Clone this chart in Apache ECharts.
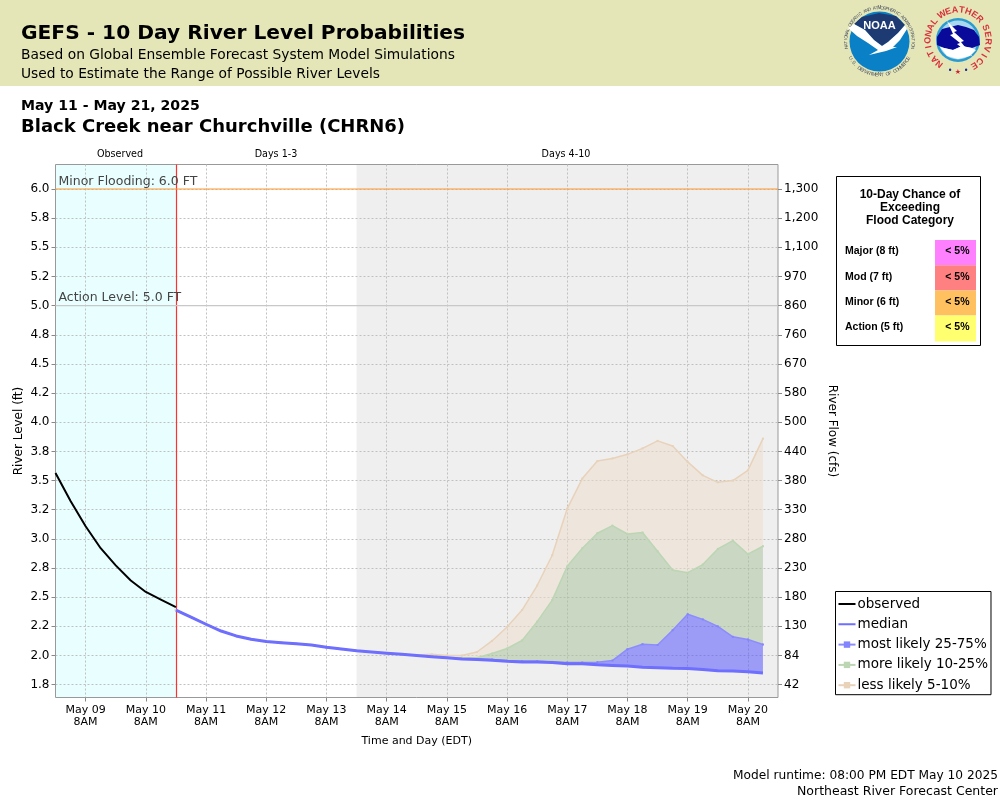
<!DOCTYPE html>
<html>
<head>
<meta charset="utf-8">
<title>GEFS - 10 Day River Level Probabilities</title>
<script src="https://cdn.jsdelivr.net/npm/echarts@6/dist/echarts.min.js"></script>
<style>
  html, body { margin: 0; padding: 0; background: #fff; }
  #chart { width: 1000px; height: 800px; }
</style>
</head>
<body>
<div id="chart"></div>
<script>
// one x slot every 6 hours, May 08 8PM to May 20 8PM
const dayNames = ['May 08', 'May 09', 'May 10', 'May 11', 'May 12', 'May 13', 'May 14', 'May 15', 'May 16', 'May 17', 'May 18', 'May 19', 'May 20'];
const hourNames = ['2AM', '8AM', '2PM', '8PM'];
const timeSlots = [];
dayNames.forEach(d => hourNames.forEach(h => timeSlots.push(d + '\n' + h)));
const timeCategories = timeSlots.slice(3, 52);

const forecastStart = 'May 10\n8PM';
const day4Start = 'May 13\n8PM';

// river level in ft, one value every 6 hours
const observedLevels = [3.565, 3.325, 3.108, 2.92, 2.773, 2.643, 2.545, 2.48, 2.414];
const medianLevels = [2.39, 2.33, 2.268, 2.21, 2.168, 2.14, 2.12, 2.11, 2.10, 2.09,
  2.07, 2.055, 2.04, 2.03, 2.02, 2.01, 2.00, 1.99, 1.98, 1.97,
  1.965, 1.96, 1.95, 1.945, 1.945, 1.94, 1.93, 1.93, 1.92, 1.915,
  1.91, 1.90, 1.895, 1.89, 1.888, 1.88, 1.87, 1.868, 1.86, 1.85];
const upper75Levels = [2.39, 2.33, 2.268, 2.21, 2.168, 2.14, 2.12, 2.11, 2.10, 2.09,
  2.07, 2.055, 2.04, 2.03, 2.02, 2.01, 2.00, 1.99, 1.98, 1.975,
  1.97, 1.965, 1.955, 1.95, 1.95, 1.945, 1.94, 1.94, 1.943, 1.957,
  2.054, 2.097, 2.09, 2.217, 2.354, 2.31, 2.25, 2.16, 2.137, 2.094];
const upper90Levels = [2.39, 2.33, 2.268, 2.21, 2.168, 2.14, 2.12, 2.11, 2.10, 2.09,
  2.07, 2.055, 2.04, 2.03, 2.02, 2.01, 2.00, 1.99, 1.98, 1.98,
  1.98, 2.017, 2.06, 2.13, 2.29, 2.475, 2.765, 2.92, 3.048, 3.114,
  3.042, 3.054, 2.894, 2.733, 2.71, 2.78, 2.914, 2.985, 2.87, 2.937];
const upper95Levels = [2.39, 2.33, 2.268, 2.21, 2.168, 2.14, 2.12, 2.11, 2.10, 2.09,
  2.07, 2.055, 2.04, 2.03, 2.02, 2.01, 2.005, 2.01, 2.00, 2.00,
  2.03, 2.125, 2.245, 2.39, 2.60, 2.86, 3.26, 3.517, 3.667, 3.69,
  3.725, 3.776, 3.84, 3.796, 3.66, 3.545, 3.485, 3.50, 3.588, 3.86];

const levelTicks = [1.75, 2, 2.25, 2.5, 2.75, 3, 3.25, 3.5, 3.75, 4, 4.25, 4.5, 4.75, 5, 5.25, 5.5, 5.75, 6];
const levelLabels = ['1.8', '2.0', '2.2', '2.5', '2.8', '3.0', '3.2', '3.5', '3.8', '4.0', '4.2', '4.5', '4.8', '5.0', '5.2', '5.5', '5.8', '6.0'];
const flowLabels = ['42', '84', '130', '180', '230', '280', '330', '380', '440', '500', '580', '670', '760', '860', '970', '1,100', '1,200', '1,300'];

const floodCategories = ['Major (8 ft)', 'Mod (7 ft)', 'Minor (6 ft)', 'Action (5 ft)'];
const floodChances = ['< 5%', '< 5%', '< 5%', '< 5%'];
const floodColors = ['#ff80ff', '#ff8080', '#ffc060', '#ffff70'];

const periodLabels = [
  { text: 'Observed', x: 120 },
  { text: 'Days 1-3', x: 276 },
  { text: 'Days 4-10', x: 566 }
];

// forecast values start 8 slots in (after the observed part)
function padForecast(values) {
  return new Array(8).fill(null).concat(values, [null]);
}
function bandWidth(upper, lower) {
  return padForecast(upper.map((v, i) => Math.max(0, +(v - lower[i]).toFixed(3))));
}
function isDayTick(index, value) {
  return value.endsWith('8AM');
}

function text(str, x, y, font, opts) {
  return {
    type: 'text', x: x, y: y, z: 22, silent: true,
    style: Object.assign({
      text: str, font: font, fill: '#000', align: 'left', verticalAlign: 'middle'
    }, opts || {})
  };
}

// letters set around a circle, angles in degrees clockwise from the top
function arcText(str, cx, cy, r, from, to, font, fill, flip) {
  const out = [];
  for (let i = 0; i < str.length; i++) {
    const deg = from + (to - from) * (str.length > 1 ? i / (str.length - 1) : 0);
    const a = deg * Math.PI / 180;
    out.push({
      type: 'text', z: 21, silent: true,
      x: cx + r * Math.sin(a), y: cy - r * Math.cos(a),
      rotation: flip ? Math.PI - a : -a,
      style: { text: str[i], font: font, fill: fill, align: 'center', verticalAlign: 'middle' }
    });
  }
  return out;
}

function poly(points, fill) {
  return { type: 'polygon', z: 21, silent: true, shape: { points: points }, style: { fill: fill } };
}
function disc(cx, cy, r, fill) {
  return { type: 'circle', z: 21, silent: true, shape: { cx: cx, cy: cy, r: r }, style: { fill: fill } };
}

function noaaLogo() {
  const cx = 879.5, cy = 41.5;
  return [
    disc(cx, cy, 30, '#0a80c6'),
    poly([[854, 24], [862, 17], [879, 13], [896, 16], [905, 25], [898, 33], [888, 42], [882, 46], [874, 40], [865, 30]], '#1d3a72'),
    poly([[848, 28], [854, 24], [865, 30], [874, 40], [882, 46], [888, 42], [898, 33], [905, 25], [907, 29], [900, 40], [893, 47], [897, 47], [886, 51], [869, 55], [878, 50], [868, 43], [857, 36]], '#ffffff'),
    text('NOAA', cx, 26, 'bold 11px "Liberation Sans"', { fill: '#fff', align: 'center' })
  ].concat(
    arcText('NATIONAL OCEANIC AND ATMOSPHERIC ADMINISTRATION', cx, cy, 33.5, -100, 100, '4.6px "Liberation Sans"', '#4a5260'),
    arcText('U.S. DEPARTMENT OF COMMERCE', cx, cy, 33.5, 240, 120, '5px "Liberation Sans"', '#4a5260', true)
  );
}

function nwsLogo() {
  const cx = 958, cy = 40;
  return [
    disc(cx, cy, 22, '#2a9bd0'),
    disc(cx, cy, 19.5, '#a8d8ee'),
    poly([[937, 37], [942, 29], [950, 27], [958, 25], [966, 27], [974, 30], [979, 37], [980, 45], [972, 48], [962, 46], [953, 50], [944, 48], [937, 45]], '#0a0a9a'),
    poly([[940, 47], [953, 50], [962, 46], [972, 48], [976, 50], [970, 56], [958, 59], [947, 56]], '#ffffff'),
    poly([[947, 21], [957, 31], [954, 32], [964, 41], [961, 42], [973, 57], [957, 44], [960, 43], [950, 35], [953, 34]], '#ffffff'),
    text('★', 958, 72, '7px "DejaVu Sans"', { fill: '#d02030', align: 'center' }),
    text('•', 950, 70.5, '8px "DejaVu Sans"', { fill: '#1a2a90', align: 'center' }),
    text('•', 966, 70.5, '8px "DejaVu Sans"', { fill: '#1a2a90', align: 'center' })
  ].concat(
    arcText('NATIONAL', cx, cy, 30, -142, -52, 'bold 9px "Liberation Sans"', '#d8303a'),
    arcText('WEATHER', cx, cy, 30, -32, 46, 'bold 9px "Liberation Sans"', '#d8303a'),
    arcText('SERVICE', cx, cy, 30, 66, 148, 'bold 9px "Liberation Sans"', '#d8303a')
  );
}

function floodBox() {
  const out = [
    { type: 'rect', z: 19, silent: true, shape: { x: 836.5, y: 176.5, width: 144, height: 169 },
      style: { fill: '#fff', stroke: '#000', lineWidth: 1 } },
    text('10-Day Chance of', 910, 195, 'bold 12px "Liberation Sans"', { align: 'center' }),
    text('Exceeding', 910, 208, 'bold 12px "Liberation Sans"', { align: 'center' }),
    text('Flood Category', 910, 221, 'bold 12px "Liberation Sans"', { align: 'center' })
  ];
  floodCategories.forEach((name, i) => {
    const top = 240 + i * 25.2;
    out.push({ type: 'rect', z: 20, silent: true, shape: { x: 935, y: top, width: 41, height: i === 3 ? 26 : 25.2 },
      style: { fill: floodColors[i] } });
    out.push(text(name, 845, top + 11.5, 'bold 10.5px "Liberation Sans"'));
    out.push(text(floodChances[i], 969.5, top + 11.5, 'bold 10.5px "Liberation Sans"', { align: 'right' }));
  });
  return out;
}

const textColor = '#000';
// a 2px bar across the legend slot, the sliver keeps the icon from being stretched
const legendLineIcon = 'path://M0 37.5H100V62.5H0Z M0 0H0.01V100H0Z';

// flat line across the plot, the see-through markLine only carries its label
function levelLine(name, level, color, labelText) {
  return {
    name: name, type: 'line', z: 3, silent: true, symbol: 'none',
    data: timeCategories.map(() => level),
    lineStyle: { color: color, type: 'solid', width: 1.2 },
    markLine: {
      silent: true, symbol: 'none',
      lineStyle: { color: 'rgba(0,0,0,0)', width: 1 },
      label: { show: true, formatter: labelText, position: 'insideStartTop', distance: [3, 1], fontSize: 12.5, color: '#444', opacity: 1 },
      data: [{ yAxis: level }]
    }
  };
}

const chart = echarts.init(document.getElementById('chart'), null, { renderer: 'canvas' });
chart.setOption({
  animation: false,
  backgroundColor: '#fff',
  textStyle: { fontFamily: '"DejaVu Sans"' },
  grid: {
    show: true, z: 1, left: 55.5, right: 222, top: 164.5, bottom: 102.5, outerBoundsMode: 'none',
    borderColor: '#999', borderWidth: 1, backgroundColor: 'transparent'
  },
  graphic: [
    { type: 'rect', z: -1, silent: true, shape: { x: 0, y: 0, width: 1000, height: 86 }, style: { fill: '#e5e6b8' } },
    text('GEFS - 10 Day River Level Probabilities', 21, 34, 'bold 20.2px "DejaVu Sans"'),
    text('Based on Global Ensemble Forecast System Model Simulations', 21, 55, '13.8px "DejaVu Sans"'),
    text('Used to Estimate the Range of Possible River Levels', 21, 74, '13.8px "DejaVu Sans"'),
    text('May 11 - May 21, 2025', 21, 106, 'bold 14.1px "DejaVu Sans"'),
    text('Black Creek near Churchville (CHRN6)', 21, 127, 'bold 18px "DejaVu Sans"'),
    text('Model runtime: 08:00 PM EDT May 10 2025', 998, 776, '12.2px "DejaVu Sans"', { align: 'right' }),
    text('Northeast River Forecast Center', 998, 792, '12.5px "DejaVu Sans"', { align: 'right' })
  ].concat(
    periodLabels.map(p => text(p.text, p.x, 154, '9.6px "DejaVu Sans"', { align: 'center' })),
    floodBox(), noaaLogo(), nwsLogo()
  ),
  legend: {
    orient: 'vertical', left: 835.5, top: 591.5, width: 156,
    backgroundColor: '#fff', borderColor: '#000', borderWidth: 1,
    padding: [5.5, 3, 2.5, 2], itemGap: 6.3, itemWidth: 17, itemHeight: 8, symbolKeepAspect: false,
    textStyle: { fontFamily: '"DejaVu Sans"', fontSize: 13.5, color: '#000', padding: [0, 0, 0, -3] },
    selectedMode: false,
    data: [
      { name: 'observed', icon: legendLineIcon },
      { name: 'median', icon: legendLineIcon },
      'most likely 25-75%', 'more likely 10-25%', 'less likely 5-10%'
    ]
  },
  xAxis: {
    type: 'category', data: timeCategories, boundaryGap: false, z: 1,
    name: 'Time and Day (EDT)', nameLocation: 'middle', nameGap: 38.5, nameMoveOverlap: false,
    nameTextStyle: { fontSize: 11, color: textColor },
    axisLine: { show: false },
    axisTick: { show: true, length: 4, interval: isDayTick, lineStyle: { color: '#888' } },
    axisLabel: {
      interval: isDayTick, fontSize: 11, color: textColor, lineHeight: 12, margin: 7, hideOverlap: false
    },
    splitLine: { show: true, interval: isDayTick, lineStyle: { color: '#c0c0c0', type: [2, 2], width: 1 } }
  },
  yAxis: [
    {
      type: 'value', min: 1.64, max: 6.21, z: 1,
      name: 'River Level (ft)', nameLocation: 'middle', nameGap: 31, nameRotate: 90, nameMoveOverlap: false,
      nameTextStyle: { fontSize: 12, color: textColor },
      axisLine: { show: false },
      axisTick: { show: true, length: 4, customValues: levelTicks, lineStyle: { color: '#888' } },
      axisLabel: {
        customValues: levelTicks, fontSize: 12, color: textColor, margin: 6,
        formatter: v => levelLabels[levelTicks.indexOf(v)]
      },
      splitLine: { show: true, lineStyle: { color: '#c0c0c0', type: [2, 2], width: 1 } }
    },
    {
      type: 'value', min: 1.64, max: 6.21, position: 'right', z: 1,
      name: 'River Flow (cfs)', nameLocation: 'middle', nameGap: 48, nameRotate: -90, nameMoveOverlap: false,
      nameTextStyle: { fontSize: 12, color: textColor },
      axisLine: { show: false },
      axisTick: { show: true, length: 4, customValues: levelTicks, lineStyle: { color: '#888' } },
      axisLabel: {
        customValues: levelTicks, fontSize: 12, color: textColor, margin: 6,
        formatter: v => flowLabels[levelTicks.indexOf(v)]
      },
      splitLine: { show: false }
    }
  ],
  series: [
    {
      name: 'periods', type: 'line', z: 0, data: [], silent: true,
      markArea: {
        silent: true, z: 0,
        data: [
          [{ xAxis: timeCategories[0], itemStyle: { color: '#e9ffff' } }, { xAxis: forecastStart }],
          [{ xAxis: day4Start, itemStyle: { color: '#efefef' } }, { xAxis: timeCategories[48] }]
        ]
      }
    },
    levelLine('minor', 6, '#ff9a30', 'Minor Flooding: 6.0 FT'),
    levelLine('action', 5, '#c8c8c8', 'Action Level: 5.0 FT'),
    {
      name: 'now', type: 'line', z: 2, data: [], silent: true,
      markLine: {
        silent: true, symbol: 'none', z: 3,
        lineStyle: { color: '#ff3030', type: 'solid', width: 1.2 }, label: { show: false },
        data: [{ xAxis: forecastStart }]
      }
    },
    {
      name: 'base', type: 'line', stack: 'bands', data: padForecast(medianLevels),
      symbol: 'none', lineStyle: { opacity: 0 }, silent: true
    },
    {
      name: 'most likely 25-75%', type: 'line', stack: 'bands', data: bandWidth(upper75Levels, medianLevels),
      symbol: 'rect', symbolSize: 2, showAllSymbol: true,
      itemStyle: { color: '#8484ff' }, lineStyle: { color: '#8c8cff', width: 1.5 },
      areaStyle: { color: 'rgba(73,73,255,0.5)', opacity: 1 }
    },
    {
      name: 'more likely 10-25%', type: 'line', stack: 'bands', data: bandWidth(upper90Levels, upper75Levels),
      symbol: 'rect', symbolSize: 2, showAllSymbol: true,
      itemStyle: { color: '#bcd6b4' }, lineStyle: { color: '#bcd6b4', width: 1.5 },
      areaStyle: { color: 'rgba(163,191,151,0.5)', opacity: 1 }
    },
    {
      name: 'less likely 5-10%', type: 'line', stack: 'bands', data: bandWidth(upper95Levels, upper90Levels),
      symbol: 'rect', symbolSize: 2, showAllSymbol: true,
      itemStyle: { color: '#e8d2ba' }, lineStyle: { color: '#e8d2ba', width: 1.5 },
      areaStyle: { color: 'rgba(237,221,201,0.5)', opacity: 1 }
    },
    {
      name: 'median', type: 'line', z: 4, data: padForecast(medianLevels),
      symbol: 'none', itemStyle: { color: '#6e6eff' }, lineStyle: { color: '#6e6eff', width: 3 }
    },
    {
      name: 'observed', type: 'line', z: 4, data: observedLevels,
      symbol: 'none', itemStyle: { color: '#000' }, lineStyle: { color: '#000', width: 2 }
    }
  ]
});
</script>
</body>
</html>
